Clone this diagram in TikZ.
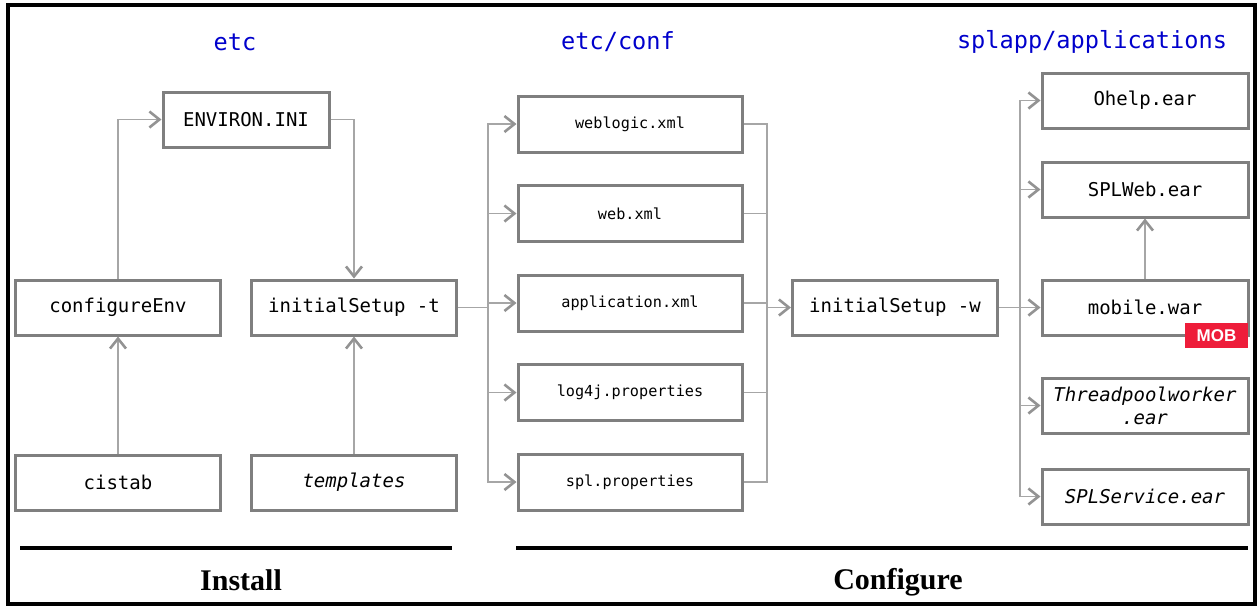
\documentclass[tikz,border=0pt]{standalone}
\usepackage{fontspec}
\setmonofont{DejaVu Sans Mono}
\newfontfamily\stagefont{Liberation Serif}
\newfontfamily\badgefont{Liberation Sans}
\usetikzlibrary{
	arrows.meta,
	positioning
}
\definecolor{boxgray}{HTML}{7F7F7F}
\definecolor{wiregray}{HTML}{A6A6A6}
\definecolor{tipgray}{HTML}{939393}
\definecolor{dirblue}{HTML}{0000CC}
\definecolor{mobred}{HTML}{EE1D3A}

\begin{document}
\begin{tikzpicture}[
			x=0.5pt, y=-0.5pt,
			FileStyle/.style={draw=boxgray, line width=1.5pt, minimum width=102.5pt, minimum height=27.5pt, inner sep=0pt, align=center, font={\ttfamily\fontsize{9.5}{11.5}\selectfont}},
			ConfStyle/.style={FileStyle, minimum width=112pt, minimum height=28pt, font={\ttfamily\fontsize{7.6}{9}\selectfont}},
			DirStyle/.style={text=dirblue, font={\ttfamily\fontsize{11.8}{14}\selectfont}},
			StageStyle/.style={font={\stagefont\bfseries\fontsize{15}{18}\selectfont}},
			MobStyle/.style={fill=mobred, text=white, minimum width=31.5pt, minimum height=12.5pt, inner sep=0pt, font={\badgefont\bfseries\fontsize{8.5}{10}\selectfont}},
			Wire/.style={draw=wiregray, line width=0.8pt},
			Link/.style={Wire, -{Straight Barb[length=5pt, width=8pt, line width=1.3pt, color=tipgray]}}]
			\useasboundingbox (0,0) rectangle (1259,606);
			\draw[line width=2pt] (8,5) rectangle (1255,604);
			% directory headings
			\node [DirStyle] (etc) at (235,42) {etc};
			\node [DirStyle] (conf) at (618,42) {etc/conf};
			\node [DirStyle] (apps) at (1092,42) {splapp/applications};
			% install stage
			\node [FileStyle, minimum width=83pt] (environ) at (246,119.5) {ENVIRON.INI};
			\node [FileStyle] (configureEnv) at (118,307.5) {configureEnv};
			\node [FileStyle] (setupT) at (354,307.5) {initialSetup -t};
			\node [FileStyle] (cistab) at (118,482.5) {cistab};
			\node [FileStyle] (templates) at (354,482.5) {\itshape templates};
			% configure stage
			\node [ConfStyle] (weblogic) at (630,124) {weblogic.xml};
			\node [ConfStyle, below=15.25pt of weblogic] (webxml) {web.xml};
			\node [ConfStyle, below=15.25pt of webxml] (appxml) {application.xml};
			\node [ConfStyle, below=15.25pt of appxml] (logprops) {log4j.properties};
			\node [ConfStyle, below=15.25pt of logprops] (splprops) {spl.properties};
			\node [FileStyle] (setupW) at (895,307.5) {initialSetup -w};
			\node [FileStyle, minimum width=103pt] (ohelp) at (1145,100.5) {Ohelp.ear};
			\node [FileStyle, minimum width=103pt] (splweb) at (1145,189.5) {SPLWeb.ear};
			\node [FileStyle, minimum width=103pt] (mobile) at (1145,307.5) {mobile.war};
			\node [FileStyle, minimum width=103pt] (worker) at (1145,405.5) {\itshape Threadpoolworker\\\itshape .ear};
			\node [FileStyle, minimum width=103pt] (splservice) at (1145,496.5) {\itshape SPLService.ear};
			\node [MobStyle] (mob) at (1216.5,335.5) {MOB};
			% buses
			\coordinate (busL) at (488,307.5);
			\coordinate (busR) at (767,307.5);
			\coordinate (busA) at (1020,307.5);
			% connectors
			\draw [Link] (configureEnv.north) |- (environ.west);
			\draw [Link] (environ.east) -| (setupT.north);
			\draw [Link] (cistab.north) -- (configureEnv.south);
			\draw [Link] (templates.north) -- (setupT.south);
			\draw [Wire] (setupT.east) -- (busL);
			\foreach \f in {weblogic, webxml, appxml, logprops, splprops} {
				\draw [Link] (busL) |- (\f.west);
				\draw [Wire] (\f.east) -| (busR);
			}
			\draw [Link] (busR) -- (setupW.west);
			\draw [Wire] (setupW.east) -- (busA);
			\foreach \a in {ohelp, splweb, mobile, worker, splservice}
				\draw [Link] (busA) |- (\a.west);
			\draw [Link] (mobile.north) -- (splweb.south);
			% stages
			\draw [line width=2pt] (20,548) -- (452,548);
			\draw [line width=2pt] (516,548) -- (1248,548);
			\node [StageStyle] (install) at (241,580) {Install};
			\node [StageStyle] (configure) at (898,582) {Configure};
		\end{tikzpicture}
\end{document}
